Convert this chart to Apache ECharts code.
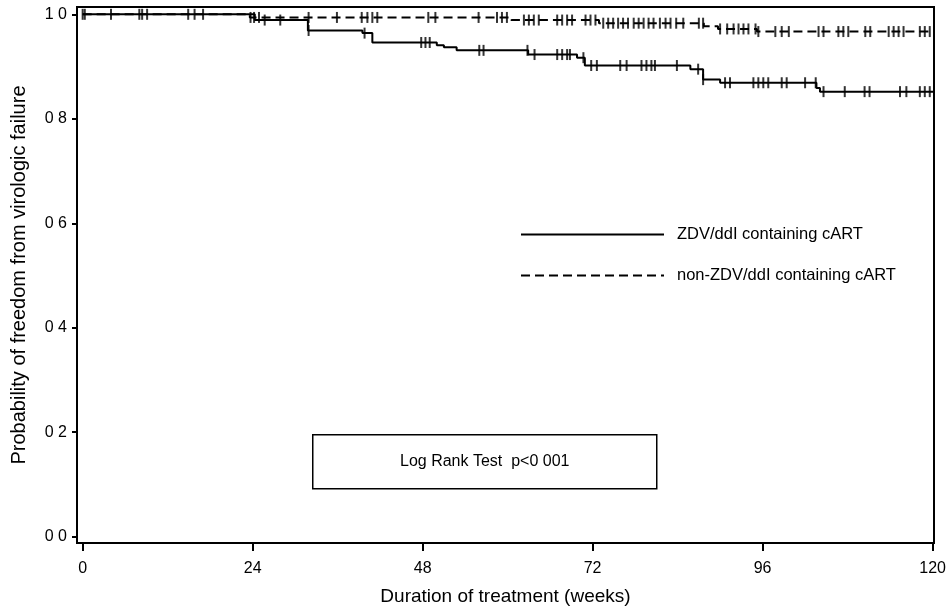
<!DOCTYPE html>
<html>
<head>
<meta charset="utf-8">
<script src="https://cdn.jsdelivr.net/npm/echarts@6/dist/echarts.min.js"></script>
<style>
  html, body { margin: 0; padding: 0; background: #fff; }
  #main { width: 949px; height: 612px; }
</style>
</head>
<body>
<div id="main"></div>
<script>
// step points of the two Kaplan-Meier curves (weeks, survival)
var zdvTimes = [0, 24.3, 31.8, 39.5, 40.9, 50.0, 51.0, 52.8, 62.9, 69.8, 70.9, 85.8, 87.6, 90.0, 103.6, 104.1, 120.2];
var zdvSurv = [1.0, 0.989, 0.969, 0.964, 0.946, 0.941, 0.937, 0.931, 0.923, 0.917, 0.902, 0.895, 0.875, 0.869, 0.859, 0.852, 0.852];
var nonTimes = [0, 23.6, 60.5, 72.9, 87.7, 89.7, 95.2, 120.2];
var nonSurv = [1.0, 0.994, 0.989, 0.983, 0.977, 0.972, 0.967, 0.967];

// censored observations (weeks)
var zdvCensor = [0.3, 8.4, 15.8, 25.7, 27.9, 31.9, 39.8, 47.8, 48.4, 49.0, 56.0, 56.6, 62.8, 63.8,
    67.0, 67.7, 68.4, 68.8, 70.7, 71.8, 72.6, 75.9, 76.8, 78.9, 79.6, 80.3, 80.8, 83.9, 86.9, 87.6,
    90.7, 91.4, 94.7, 95.4, 96.1, 96.8, 98.7, 99.4, 102.0, 103.5, 104.6, 107.6, 110.4, 111.1,
    115.4, 116.3, 118.2, 118.9, 119.6];
var nonCensor = [0, 4.0, 8.0, 9.1, 14.9, 17.0, 23.7, 24.2, 24.9, 31.9, 35.9, 39.4, 40.2, 40.9, 41.6,
    48.8, 49.8, 55.9, 58.5, 59.2, 59.9, 62.3, 63.0, 63.7, 64.4, 67.0, 67.7, 68.4, 69.1, 71.0, 71.7,
    72.4, 73.5, 74.2, 74.9, 75.6, 76.3, 77.0, 77.8, 78.5, 79.2, 79.9, 80.6, 81.5, 82.3, 83.0, 83.8,
    84.8, 87.0, 87.6, 90.0, 91.0, 91.9, 92.6, 93.3, 94.0, 95.0, 95.4, 97.8, 98.7, 99.7, 103.9, 104.6,
    106.7, 107.4, 108.1, 110.5, 111.2, 113.8, 114.5, 115.2, 115.9, 118.2, 118.9, 119.6];

var xTicks = [0, 24, 48, 72, 96, 120];
var yTicks = [0, 0.2, 0.4, 0.6, 0.8, 1.0];
var seriesNames = ['ZDV/ddI containing cART', 'non-ZDV/ddI containing cART'];

function pairs(times, surv) {
    return times.map(function (t, i) { return [t, surv[i]]; });
}

// censor mark sits on the curve value at that time
function censorPoints(times, surv, cens) {
    return cens.map(function (c) {
        var v = surv[0];
        for (var i = 0; i < times.length; i++) {
            if (times[i] <= c) v = surv[i];
        }
        return [c, v];
    });
}

var font = 'Liberation Sans, Arial, Helvetica, sans-serif';
var myChart = echarts.init(document.getElementById('main'));

var option = {
    backgroundColor: '#fff',
    animation: false,
    grid: {
        left: 77,
        right: 15,
        top: 7,
        bottom: 69,
        show: true,
        borderColor: '#000',
        borderWidth: 2
    },
    legend: {
        data: seriesNames,
        orient: 'vertical',
        left: 515,
        top: 221,
        itemWidth: 143,
        itemHeight: 14,
        itemGap: 24,
        itemStyle: { opacity: 0 },
        textStyle: {
            fontFamily: font,
            fontSize: 16.5,
            color: '#000',
            padding: [0, 0, 0, 8]
        }
    },
    xAxis: {
        type: 'value',
        min: -0.8,
        max: 120.2,
        name: 'Duration of treatment (weeks)',
        nameLocation: 'middle',
        nameGap: 44,
        nameTextStyle: { fontFamily: font, fontSize: 19, color: '#000' },
        splitLine: { show: false },
        axisLine: { onZero: false, lineStyle: { color: '#000', width: 2 } },
        axisTick: { customValues: xTicks, length: 8, lineStyle: { color: '#000', width: 2 } },
        axisLabel: {
            customValues: xTicks,
            margin: 18,
            fontFamily: font,
            fontSize: 16,
            color: '#000'
        }
    },
    yAxis: {
        type: 'value',
        min: -0.012,
        max: 1.014,
        name: 'Probability of freedom from virologic failure',
        nameLocation: 'middle',
        nameGap: 48,
        nameTextStyle: { fontFamily: font, fontSize: 20, color: '#000' },
        splitLine: { show: false },
        axisLine: { onZero: false, lineStyle: { color: '#000', width: 2 } },
        axisTick: { customValues: yTicks, length: 5, lineStyle: { color: '#000', width: 2 } },
        axisLabel: {
            customValues: yTicks,
            margin: 10,
            fontFamily: font,
            fontSize: 16,
            color: '#000',
            formatter: function (v) { return v.toFixed(1).replace('.', ' '); }
        }
    },
    graphic: [{
        type: 'group',
        left: 312,
        top: 434,
        children: [{
            type: 'rect',
            shape: { x: 0, y: 0, width: 344, height: 54 },
            style: { fill: '#fff', stroke: '#000', lineWidth: 1.5 }
        }, {
            type: 'text',
            x: 172,
            y: 27,
            style: {
                text: 'Log Rank Test  p<0 001',
                fontFamily: font,
                fontSize: 16,
                fill: '#000',
                align: 'center',
                verticalAlign: 'middle'
            }
        }]
    }],
    series: [
        {
            name: seriesNames[0],
            type: 'line',
            step: 'end',
            symbol: 'none',
            color: '#000',
            lineStyle: { color: '#000', width: 2 },
            data: pairs(zdvTimes, zdvSurv),
            z: 3
        },
        {
            name: seriesNames[1],
            type: 'line',
            step: 'end',
            symbol: 'none',
            color: '#000',
            lineStyle: { color: '#000', width: 2, type: [9, 5] },
            data: pairs(nonTimes, nonSurv),
            z: 3
        },
        {
            name: 'zdv-censor',
            type: 'scatter',
            symbol: 'rect',
            symbolSize: [2, 11],
            itemStyle: { color: '#000' },
            data: censorPoints(zdvTimes, zdvSurv, zdvCensor),
            z: 4
        },
        {
            name: 'non-censor',
            type: 'scatter',
            symbol: 'rect',
            symbolSize: [2, 11],
            itemStyle: { color: '#000' },
            data: censorPoints(nonTimes, nonSurv, nonCensor),
            z: 4
        }
    ]
};

myChart.setOption(option);
</script>
</body>
</html>
